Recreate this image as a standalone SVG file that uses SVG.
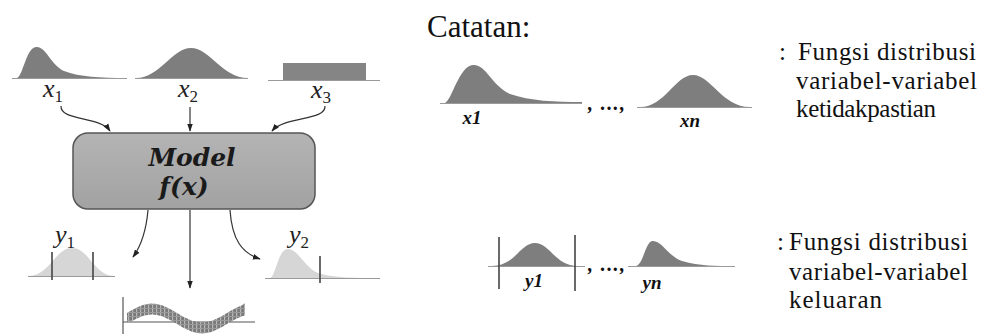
<svg xmlns="http://www.w3.org/2000/svg" width="981" height="334" viewBox="0 0 981 334">
<style>
.dist{fill:#7e7e7e;stroke:none}
.distl{fill:#d6d6d6;stroke:none}
.base{stroke:#9a9a9a;stroke-width:1.2;fill:none}
.bar{stroke:#444;stroke-width:1.6}
.conn{fill:none;stroke:#333;stroke-width:1.2}
.var{font-style:italic;font-size:26px;fill:#222}
.sub{font-size:17px;font-style:normal}
.lbl{font-style:italic;font-weight:bold;font-size:19px;fill:#111}
.note{font-size:25px;fill:#111}
.model{font-style:italic;font-weight:bold;font-size:25px;fill:#1a1a1a}
</style>
<defs>
<linearGradient id="boxg" x1="0" y1="0" x2="0" y2="1">
<stop offset="0" stop-color="#b4b4b4"/>
<stop offset="1" stop-color="#a2a2a2"/>
</linearGradient>
<pattern id="hatch" width="4" height="4" patternUnits="userSpaceOnUse">
<rect width="4" height="4" fill="#7a7a7a"/>
<rect x="0" width="1.2" height="4" fill="#b8b8b8"/>
<rect y="0" width="4" height="1" fill="#9a9a9a"/>
</pattern>
<marker id="arr" viewBox="0 0 10 10" refX="9" refY="5" markerWidth="8" markerHeight="8" markerUnits="userSpaceOnUse" orient="auto">
<path d="M0,1.5 L10,5 L0,8.5 Z" fill="#222"/>
</marker>
</defs>

<g font-family="Liberation Serif, serif">
<g id="input-x1">
<path class="dist" d="M17,78 C23,76 26,48 36,47 C46,46 50,64 64,71 C80,77 100,78 127,78 Z"/>
<line class="base" x1="12" y1="78.5" x2="127" y2="78.5"/>
<text class="var" x="43" y="97">x<tspan class="sub" dy="5">1</tspan></text>
</g>
<g id="input-x2">
<path class="dist" d="M136,78 C160,78 172,48 191,48 C210,48 222,78 248,78 Z"/>
<line class="base" x1="135" y1="78.5" x2="248" y2="78.5"/>
<text class="var" x="178" y="97">x<tspan class="sub" dy="5">2</tspan></text>
</g>
<g id="input-x3">
<rect x="283" y="63" width="83" height="17" fill="#858585"/>
<line class="base" x1="268" y1="80.5" x2="380" y2="80.5"/>
<text class="var" x="311" y="98">x<tspan class="sub" dy="5">3</tspan></text>
</g>

<g id="model">
<rect x="73" y="133" width="242" height="76" rx="15" fill="url(#boxg)" stroke="#555" stroke-width="1.5"/>
<text class="model" x="192" y="166" text-anchor="middle" font-family="DejaVu Serif, serif">Model</text>
<text class="model" x="184" y="195" text-anchor="middle" font-family="DejaVu Serif, serif">f(x)</text>
</g>

<g id="output-y1">
<path class="distl" d="M28,276 C50,276 55,248 72,248 C89,248 94,276 115,276 Z"/>
<line class="base" x1="28" y1="276.5" x2="115" y2="276.5"/>
<line class="bar" x1="52" y1="252" x2="52" y2="280"/>
<line class="bar" x1="93" y1="252" x2="93" y2="280"/>
<text class="var" x="55" y="243">y<tspan class="sub" dy="5">1</tspan></text>
</g>
<g id="output-y2">
<path class="distl" d="M270,278 C276,276 278,249 288,249 C298,249 305,268 318,273 C335,278 355,278 380,278 Z"/>
<line class="base" x1="265" y1="278.5" x2="380" y2="278.5"/>
<line class="bar" x1="320" y1="256" x2="320" y2="283"/>
<text class="var" x="289" y="243">y<tspan class="sub" dy="5">2</tspan></text>
</g>
<g id="output-series">
<line x1="123" y1="297" x2="123" y2="334" stroke="#555" stroke-width="1.2"/>
<line x1="123" y1="322" x2="255" y2="322" stroke="#555" stroke-width="1.2"/>
<polygon fill="url(#hatch)" points="127,313 132,310.1 137,307.4 142,305.3 147,304 152,303.5 157,304 162,305.3 167,307.4 172,310.1 177,313 182,315.9 187,318.6 192,320.7 197,322 202,322.5 207,322 212,320.7 217,318.6 222,315.9 227,313 232,310.1 237,307.4 242,305.3 245,303 245,315.4 242,316.3 237,318.4 232,321.1 227,324 222,326.9 217,329.6 212,331.7 207,333 202,333.5 197,333 192,331.7 187,329.6 182,326.9 177,324 172,321.1 167,318.4 162,316.3 157,315 152,314.5 147,315 142,316.3 137,318.4 132,321.1 127,322"/>
</g>

<g id="connectors">
<path class="conn" d="M61,106 C60,121 100,116 110,131" marker-end="url(#arr)"/>
<path class="conn" d="M190,107 L190,131" marker-end="url(#arr)"/>
<path class="conn" d="M325,106 C326,121 285,116 272,131" marker-end="url(#arr)"/>
<path class="conn" d="M148,210 C146,233 141,246 133,257" marker-end="url(#arr)"/>
<path class="conn" d="M190,210 L190,288" marker-end="url(#arr)"/>
<path class="conn" d="M230,210 C232,240 242,253 260,259" marker-end="url(#arr)"/>
</g>

<g id="legend">
<text class="note" x="427" y="37" font-size="31" style="font-size:31px">Catatan:</text>
<g id="legend-inputs">
<path class="dist" d="M445,103 C452,100 459,66 473,65 C486,64 491,85 510,94 C530,101 555,102 582,102 L582,103 Z"/>
<line class="base" x1="440" y1="103.5" x2="582" y2="103.5"/>
<text class="lbl" x="472" y="124" text-anchor="middle">x1</text>
<text class="lbl" x="588" y="110" style="font-size:20px" textLength="37" lengthAdjust="spacing">, ...,</text>
<path class="dist" d="M640,107 C665,107 675,75 693,75 C711,75 722,107 750,107 Z"/>
<line class="base" x1="637" y1="107.5" x2="752" y2="107.5"/>
<text class="lbl" x="690" y="127" text-anchor="middle">xn</text>
</g>
<g id="legend-outputs">
<path class="dist" d="M492,266 C515,266 520,243 535,243 C550,243 555,266 578,266 Z"/>
<line class="base" x1="488" y1="266.5" x2="585" y2="266.5"/>
<line class="bar" x1="499" y1="237" x2="499" y2="289"/>
<line class="bar" x1="575" y1="235" x2="575" y2="291"/>
<text class="lbl" x="534" y="287" text-anchor="middle">y1</text>
<text class="lbl" x="588" y="271" style="font-size:20px" textLength="37" lengthAdjust="spacing">, ...,</text>
<path class="dist" d="M636,266 C644,264 645,241 653,241 C662,241 668,256 682,261 C700,266 715,266 735,266 Z"/>
<line class="base" x1="628" y1="266.5" x2="735" y2="266.5"/>
<text class="lbl" x="652" y="289" text-anchor="middle">yn</text>
</g>
<g id="legend-text">
<text class="note" x="779" y="60">:</text>
<text class="note" x="798" y="60" textLength="178" lengthAdjust="spacing">Fungsi distribusi</text>
<text class="note" x="796" y="89" textLength="181" lengthAdjust="spacing">variabel-variabel</text>
<text class="note" x="796" y="117" textLength="140" lengthAdjust="spacing">ketidakpastian</text>
<text class="note" x="777" y="250">:</text>
<text class="note" x="789" y="250" textLength="179" lengthAdjust="spacing">Fungsi distribusi</text>
<text class="note" x="789" y="280" textLength="179" lengthAdjust="spacing">variabel-variabel</text>
<text class="note" x="789" y="308" textLength="93" lengthAdjust="spacing">keluaran</text>
</g>
</g>
</g>
</svg>
